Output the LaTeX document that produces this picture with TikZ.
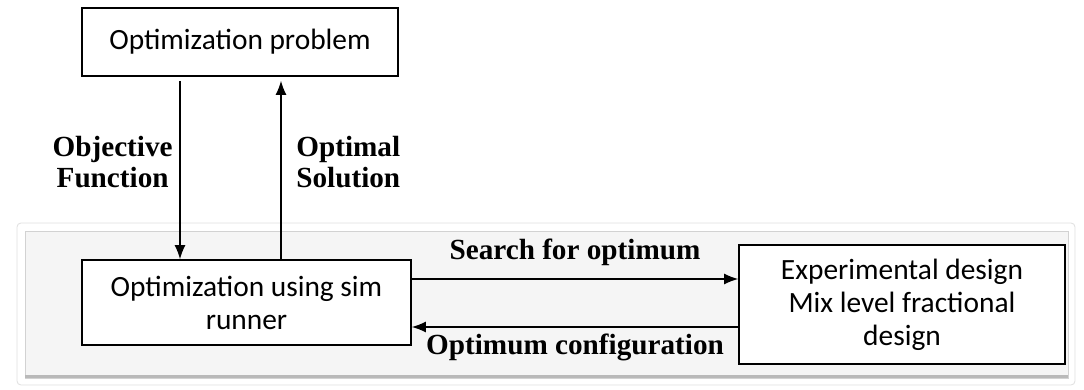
\documentclass[tikz,border=0pt]{standalone}
\usepackage{fontspec}
\setmainfont{Carlito}
\newfontfamily\lblfont{Liberation Serif}
\usetikzlibrary{arrows.meta}
\begin{document}
\begin{tikzpicture}[x=0.5pt,y=-0.5pt,>={Latex[length=7pt,width=5.5pt]}]
\useasboundingbox (0,0) rectangle (1084,390);
% grey panel behind the lower row
\draw[gray!25,fill=white,rounded corners=2pt] (17,223) rectangle (1075,385);
\draw[gray!35,fill=gray!8] (25,231) rectangle (1068,378);
\draw[gray!55,line width=1.5pt] (25,377) -- (1068,377);
\tikzstyle{every node}=[draw,shape=rectangle,line width=0.8pt,fill=white,align=center,font=\fontsize{14.7}{16.5}\selectfont];
\node[minimum width=158pt,minimum height=34pt] (prob) at (240,42) {Optimization problem};
\node[minimum width=164.5pt,minimum height=42.5pt] (simrun) at (246.5,302.5) {Optimization using sim\\runner};
\node[minimum width=163pt,minimum height=59.5pt] (expdesign) at (902,304.5) {Experimental design\\Mix level fractional\\design};
\tikzstyle{every node}=[font=\lblfont\bfseries\fontsize{14.6}{15.5}\selectfont];
\draw [->,line width=0.7pt,shorten <=2pt] ([xshift=-30pt]prob.south) -- ([xshift=-30pt]prob.south |- simrun.north) node[pos=.47,left,align=center] {Objective\\Function};
\draw [->,line width=0.7pt,shorten >=2pt] ([xshift=20.5pt]prob.south |- simrun.north) -- ([xshift=20.5pt]prob.south) node[pos=.53,right=4pt,align=left] {Optimal\\Solution};
\draw [->,line width=0.7pt] ([yshift=11.75pt]simrun.east) -- ([yshift=11.75pt]simrun.east -| expdesign.west) node[midway,above=3pt] {Search for optimum};
\draw [->,line width=0.7pt] ([yshift=-11.25pt]expdesign.west) -- ([yshift=-11.25pt]expdesign.west -| simrun.east) node[midway,below=0pt] {Optimum configuration};
\end{tikzpicture}
\end{document}
